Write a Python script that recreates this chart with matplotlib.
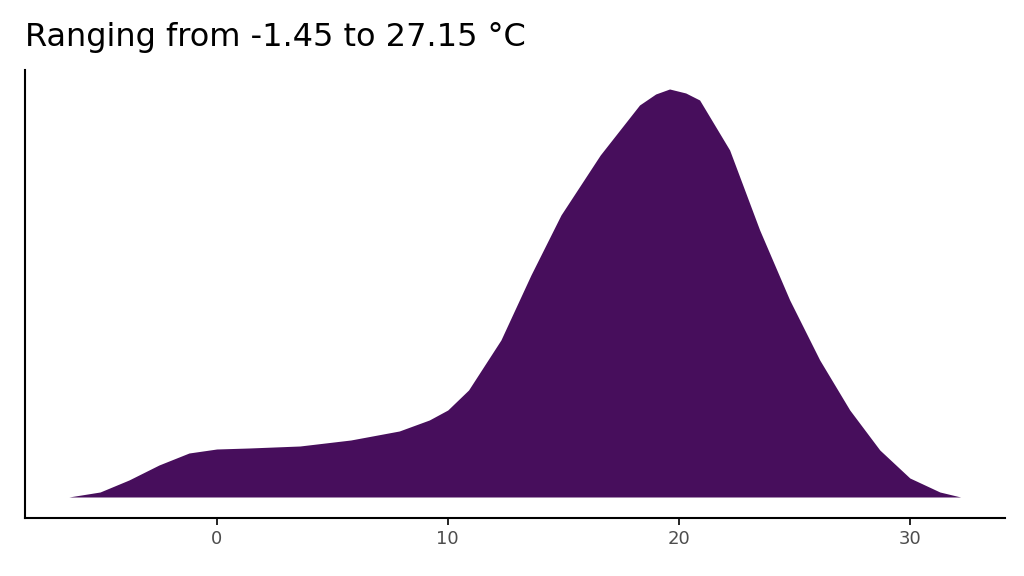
import matplotlib.pyplot as plt
import numpy as np

# temperature (degC) and relative density
temp = [-6.4, -5.05, -3.8, -2.5, -1.2, 0.0, 1.4, 3.6, 5.8, 7.9, 9.2, 10.0, 10.9,
        12.3, 13.6, 14.9, 16.6, 18.3, 19.0, 19.6, 20.3, 20.9, 22.2, 23.5, 24.8,
        26.1, 27.4, 28.7, 30.0, 31.3, 32.2]
dens = [0, 5, 17, 32, 44, 48, 49, 51, 57, 66, 77, 87, 107,
        157, 222, 282, 342, 392, 403, 408, 404, 397, 347, 267, 197,
        137, 87, 47, 19, 5, 0]
dens = np.array(dens) / 408 * 0.058

fig = plt.figure(figsize=(10.24, 5.76), dpi=100)
ax = fig.add_axes([0.0244, 0.1007, 0.9566, 0.7778])
ax.fill_between(temp, dens, 0, color='#470E5C', linewidth=0)
ax.set_xlim(-8.3, 34.1)
ax.set_ylim(-21 / 408 * 0.058, 427 / 408 * 0.058)
ax.set_xticks([0, 10, 20, 30])
ax.set_yticks([])
ax.tick_params(axis='x', labelsize=13, colors='#4d4d4d', length=5, width=1.2)
ax.tick_params(axis='x', color='black')
for s in ['top', 'right']:
    ax.spines[s].set_visible(False)
for s in ['left', 'bottom']:
    ax.spines[s].set_linewidth(1.5)
fig.text(0.0244, 0.935, 'Ranging from -1.45 to 27.15 °C', fontsize=23, va='center', ha='left')
fig.savefig('out.png')
